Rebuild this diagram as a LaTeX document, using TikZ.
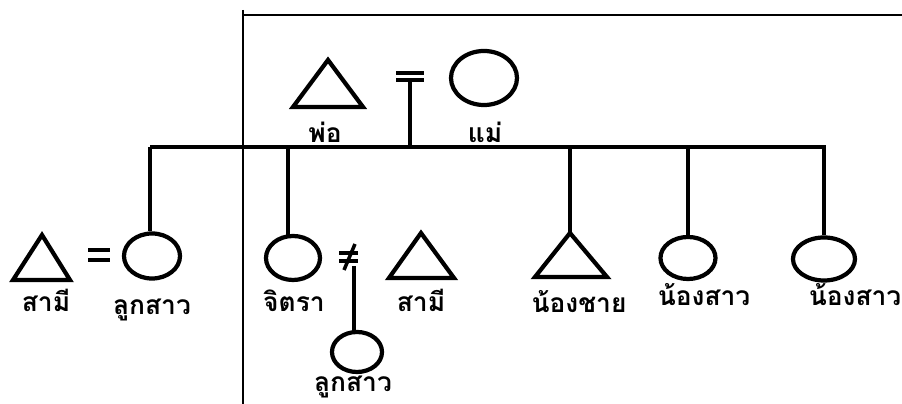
\documentclass[tikz,border=0pt]{standalone}
\usepackage{fontspec}
\newfontfamily\thaifont[Script=Thai]{Loma}
\usetikzlibrary{shapes.geometric}

\begin{document}
\begin{tikzpicture}[x=0.01cm,y=-0.01cm, line width=1pt,
 every node/.style={font=\thaifont\bfseries\fontsize{7.5}{9}\selectfont},
 fem/.style={draw,ellipse,inner sep=0pt,line width=1.2pt},
 lbl/.style={inner sep=0pt,anchor=base},
 tri/.style={line width=1.2pt,line join=miter}]
\useasboundingbox (0,0) rectangle (902,404);
% frame
\draw[line width=0.8pt] (243,10) -- (243,404);
\draw[line width=0.8pt] (243,15) -- (902,15);
% parents
\coordinate (dad) at (328,60);
\draw[tri] (dad) -- (363,107) -- (293,107) -- cycle;
\node[fem,minimum width=0.66cm,minimum height=0.54cm] (mom) at (484,78) {};
\node[lbl] (dadl) at (325,143) {พ่อ};
\node[lbl] (moml) at (485,143) {แม่};
\coordinate (eqa) at (396,73); \coordinate (eqb) at (424,73);
\coordinate (eqc) at (396,80); \coordinate (eqd) at (424,80);
\draw (eqa) -- (eqb); \draw (eqc) -- (eqd);
\coordinate (par) at (410,80);
% sibling line
\coordinate (sl) at (150,147); \coordinate (sr) at (826,147);
\draw (sl) -- (sr);
\draw (par) -- (par |- sl);
% children
\node[fem,minimum width=0.56cm,minimum height=0.45cm] (dau) at (152,256) {};
\node[fem,minimum width=0.54cm,minimum height=0.44cm] (jit) at (293,258) {};
\coordinate (bro) at (570,233);
\draw[tri] (bro) -- (607,277) -- (535,277) -- cycle;
\node[fem,minimum width=0.55cm,minimum height=0.42cm] (sis1) at (688,258) {};
\node[fem,minimum width=0.62cm,minimum height=0.43cm] (sis2) at (824,259) {};
\draw (sl) -- (sl |- dau.north);
\draw (288,147) -- (288,235);
\draw (bro |- sl) -- (bro);
\draw (sis1.north |- sl) -- (sis1.north);
\draw (sis2.north |- sl) -- (sis2.north);
% spouses
\coordinate (hus1) at (42,235);
\draw[tri] (hus1) -- (70,280) -- (13,280) -- cycle;
\draw (88,250) -- (110,250); \draw (88,260) -- (110,260);
\coordinate (hus2) at (421,233);
\draw[tri] (hus2) -- (454,278) -- (389,278) -- cycle;
% not married
\draw (339,253) -- (358,253); \draw (339,261) -- (358,261);
\coordinate (neq) at (355,244);
\draw (neq) -- (344,270);
\node[fem,minimum width=0.50cm,minimum height=0.40cm] (dau2) at (357,352) {};
\coordinate (neqb) at (354,266);
\draw (neqb) -- (neqb |- dau2.north);
% labels
\node[lbl] (hus1l) at (46,312) {สามี};
\node[lbl] (daul) at (152,315) {ลูกสาว};
\node[lbl] (jitl) at (294,312) {จิตรา};
\node[lbl] (hus2l) at (421,312) {สามี};
\node[lbl] (dau2l) at (353,392) {ลูกสาว};
\node[lbl] (brol) at (579,313) {น้องชาย};
\node[lbl] (sis1l) at (704,306) {น้องสาว};
\node[lbl] (sis2l) at (855,306) {น้องสาว};
\end{tikzpicture}
\end{document}
